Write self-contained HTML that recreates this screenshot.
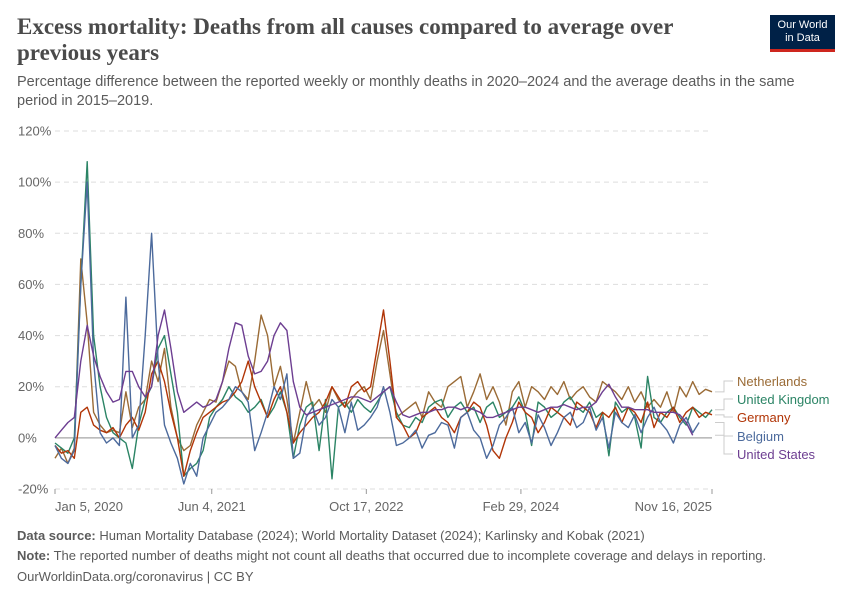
<!DOCTYPE html>
<html><head><meta charset="utf-8"><style>
body{margin:0;background:#fff;font-family:"Liberation Sans",sans-serif}
#wrap{position:relative;width:850px;height:600px;overflow:hidden}
.t{position:absolute;white-space:nowrap}
</style></head><body><div id="wrap">
<div class="t" style="left:17px;top:14px;font-family:'Liberation Serif',serif;font-weight:bold;font-size:23px;line-height:26px;color:#4a4a4a">Excess mortality: Deaths from all causes compared to average over<br>previous years</div>
<div class="t" style="left:17px;top:73px;font-size:14.5px;line-height:19px;color:#5b5b5b">Percentage difference between the reported weekly or monthly deaths in 2020–2024 and the average deaths in the same<br>period in 2015–2019.</div>
<div style="position:absolute;left:770px;top:15px;width:65px;height:37px;background:#002147;border-bottom:3px solid #ce261e;color:#fff;font-size:11px;line-height:13px;text-align:center;padding-top:4px;box-sizing:border-box">Our World<br>in Data</div>
<svg id="chart" width="850" height="600" style="position:absolute;left:0;top:0"></svg>
<div class="t" style="left:17px;top:528px;font-size:13px;color:#5b5b5b"><b>Data source:</b> Human Mortality Database (2024); World Mortality Dataset (2024); Karlinsky and Kobak (2021)</div>
<div class="t" style="left:17px;top:548px;font-size:13px;color:#5b5b5b"><b>Note:</b> The reported number of deaths might not count all deaths that occurred due to incomplete coverage and delays in reporting.</div>
<div class="t" style="left:17px;top:569px;font-size:13px;color:#5b5b5b">OurWorldinData.org/coronavirus | CC BY</div>
</div>
<script>
const yTicks=[-20,0,20,40,60,80,100,120];
const yTickLabels=["-20%","0%","20%","40%","60%","80%","100%","120%"];
const xTickLabels=["Jan 5, 2020","Jun 4, 2021","Oct 17, 2022","Feb 29, 2024","Nov 16, 2025"];
const xTickWeeks=[0,73,145,217,306];
const seriesNames=["Netherlands","United Kingdom","Germany","Belgium","United States"];
const stepWeeks=3;
const netherlands=[-8,-4,-10,-4,70,45,10,5,2,3,2,18,4,12,15,30,22,35,12,0,-5,-3,5,10,15,14,22,30,28,18,15,30,48,40,20,28,15,-2,10,22,12,15,10,20,15,12,15,18,20,15,30,42,25,8,10,12,14,8,18,14,12,20,22,24,12,18,25,15,20,14,5,18,22,12,20,18,15,20,17,22,15,18,20,16,14,22,20,18,15,20,14,18,12,15,12,18,10,20,16,22,17,19,18];
const unitedKingdom=[-2,-4,-6,0,60,108,40,20,8,2,0,-2,-12,5,15,20,35,40,25,10,-15,-12,-10,-5,8,12,15,20,16,14,10,12,15,8,12,18,10,-8,5,12,14,-5,15,-16,12,14,10,15,12,10,14,18,20,10,5,4,8,6,12,14,15,8,12,14,10,12,6,12,14,8,10,12,16,10,-3,14,12,8,10,14,16,12,10,14,8,10,-7,14,10,12,8,-4,24,8,6,10,12,8,5,12,10,8,11];
const germany=[-3,-6,-5,-8,10,12,5,3,2,4,0,5,8,3,10,25,30,22,10,0,-15,-5,2,8,10,12,14,15,18,22,30,20,14,8,15,20,10,-2,2,5,8,10,14,20,16,12,20,22,18,20,35,50,30,8,5,0,2,8,10,12,8,6,2,8,10,14,12,5,-5,-8,0,6,14,10,8,2,6,12,10,8,5,14,12,10,4,10,8,12,6,12,10,6,14,4,10,8,12,6,10,12,8,10,9];
const belgium=[-3,-8,-10,-5,60,100,30,2,-2,0,-3,55,0,5,40,80,30,5,-2,-8,-18,-10,-15,0,5,10,12,15,20,18,14,-5,2,10,20,15,25,-8,-6,8,12,5,8,15,12,2,14,3,5,8,12,20,10,-3,-2,0,3,-4,1,2,6,5,-4,8,10,3,0,-8,-3,5,8,12,2,6,-2,9,4,-3,2,8,10,4,6,12,3,8,-4,10,6,4,9,2,8,12,6,3,-2,5,8,2,6];
const unitedStates=[0,3,6,8,30,44,32,24,18,14,15,26,26,20,16,20,40,50,35,18,10,12,14,12,13,15,22,35,45,44,32,25,26,30,40,45,42,22,12,9,10,11,12,13,14,15,16,16,15,14,16,18,20,14,9,8,9,10,10,11,11,12,12,11,12,11,10,8,8,9,10,11,12,12,11,10,11,12,12,13,12,11,12,12,14,18,21,16,12,12,11,11,11,10,10,10,10,9,6,1];
const seriesData=[netherlands,unitedKingdom,germany,belgium,unitedStates];
const colors=["#9a6b36","#2b8465","#b13507","#4c6a9c","#6d3e91"];
const labelY=[385,403,421,440,458];
const NS="http://www.w3.org/2000/svg";
const svg=document.getElementById('chart');
const x0=55,x1=712,yTop=131,yBot=489,wMax=306;
const X=w=>x0+w*(x1-x0)/wMax;
const Y=v=>yBot-(v-(-20))*(yBot-yTop)/140;
function mk(t,a){const e=document.createElementNS(NS,t);for(const k in a)e.setAttribute(k,a[k]);svg.appendChild(e);return e;}
yTicks.forEach((v,i)=>{
  const l=mk('line',{x1:x0,x2:x1,y1:Y(v),y2:Y(v),stroke:v===0?'#a5a5a5':'#dddddd','stroke-width':v===0?1.3:1,'stroke-dasharray':v===0?'':'5,4'});
  
  
  const t=mk('text',{x:18,y:Y(v)+4.5,'font-size':13,fill:'#666','font-family':'Liberation Sans, sans-serif'});
  t.textContent=yTickLabels[i];
  
  
});
xTickWeeks.forEach((w,i)=>{
  const tk=mk('line',{x1:X(w),x2:X(w),y1:yBot,y2:yBot+5,stroke:'#999'});
  
  
  const anchor=i===0?'start':(i===xTickWeeks.length-1?'end':'middle');
  const t=mk('text',{x:X(w),y:511,'font-size':13,fill:'#666','text-anchor':anchor,'font-family':'Liberation Sans, sans-serif'});
  t.textContent=xTickLabels[i];
  
  
});
seriesData.forEach((d,s)=>{
  const pts=d.map((v,i)=>X(i*stepWeeks).toFixed(1)+','+Y(v).toFixed(1)).join(' ');
  const p=mk('polyline',{points:pts,fill:'none',stroke:colors[s],'stroke-width':1.4,'stroke-linejoin':'round'});
  
  
  const last=d[d.length-1];
  const ly=labelY[s];
  const c=mk('polyline',{points:`${x1+3},${Y(last)} ${x1+12},${Y(last)} ${x1+12},${ly-4} ${x1+21},${ly-4}`,fill:'none',stroke:'#ccc','stroke-width':1});
  
  
  const t=mk('text',{x:737,y:ly+1,'font-size':13,fill:colors[s],'font-family':'Liberation Sans, sans-serif'});
  t.textContent=seriesNames[s];
  
  
});
</script></body></html>
